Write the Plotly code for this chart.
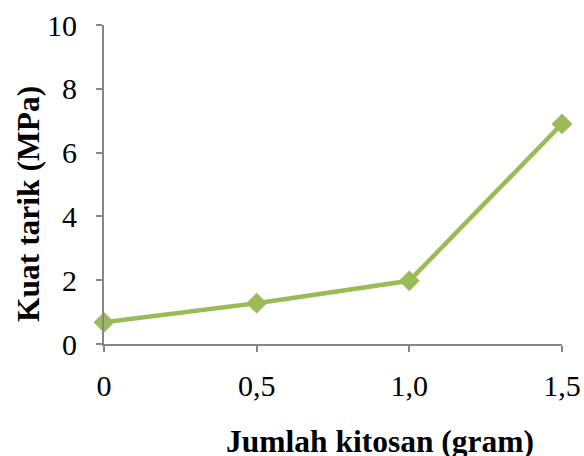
import plotly.graph_objects as go

x_values = [0, 0.5, 1.0, 1.5]
tick_labels = ["0", "0,5", "1,0", "1,5"]
kuat_tarik = [0.68, 1.28, 1.98, 6.9]
y_ticks = [0, 2, 4, 6, 8, 10]

x_title = "Jumlah kitosan (gram)"
y_title = "Kuat tarik (MPa)"

color = "#9BBB59"
axis_color = "#868686"
font_family = "Liberation Serif, Times New Roman, serif"

fig = go.Figure(go.Scatter(
    x=x_values, y=kuat_tarik, mode="lines+markers",
    line=dict(color=color, width=4.5),
    marker=dict(symbol="diamond", size=16, color=color),
    cliponaxis=False, showlegend=False,
))

fig.update_layout(
    width=584, height=456,
    margin=dict(l=104, r=22, t=25, b=112),
    paper_bgcolor="white", plot_bgcolor="white",
    font=dict(family=font_family, size=30, color="black"),
    xaxis=dict(range=[0, 1.5], tickvals=x_values, ticktext=tick_labels,
               showline=True, linecolor=axis_color, linewidth=2,
               ticks="outside", ticklen=6, tickcolor=axis_color, tickwidth=2,
               showgrid=False, zeroline=False, ticklabelstandoff=8,
               automargin=False),
    yaxis=dict(range=[0, 10], tickvals=y_ticks,
               showline=True, linecolor=axis_color, linewidth=2,
               ticks="outside", ticklen=6, tickcolor=axis_color, tickwidth=2,
               showgrid=False, zeroline=False, ticklabelstandoff=13,
               automargin=False),
    annotations=[
        dict(text="<b>" + x_title + "</b>", xref="paper", yref="paper",
             x=(380 - 104) / (562 - 104), y=(344 - 441) / (344 - 25),
             showarrow=False, font=dict(size=31.5), xanchor="center", yanchor="middle"),
        dict(text="<b>" + y_title + "</b>", xref="paper", yref="paper",
             x=(29 - 104) / (562 - 104), y=(344 - 204) / (344 - 25),
             showarrow=False, font=dict(size=31.5), textangle=-90,
             xanchor="center", yanchor="middle"),
    ],
)

fig.write_html("out.html", config={"displayModeBar": False},
               post_script="document.body.style.margin='0';")
